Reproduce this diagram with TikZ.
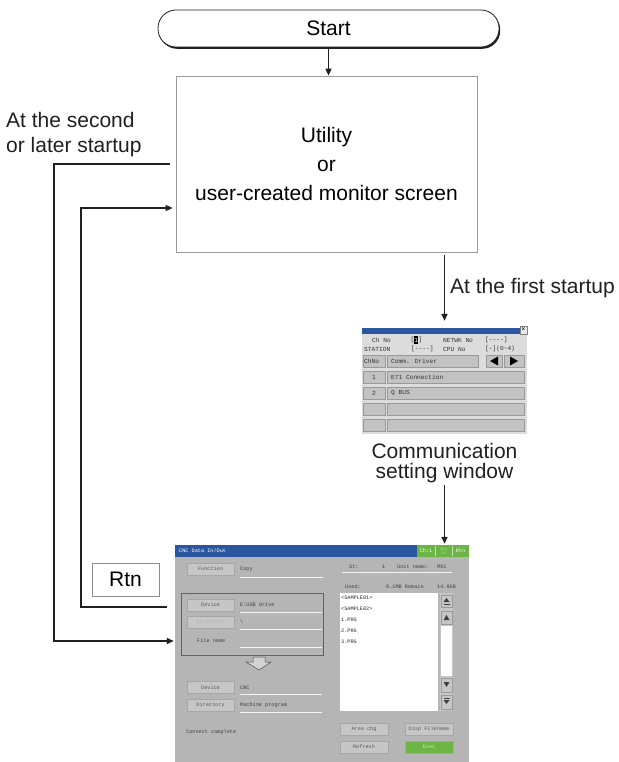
\documentclass[tikz,border=0pt]{standalone}
\usepackage{fontspec}
\setmainfont{Liberation Sans}
\newfontfamily\scrmono{Liberation Mono}
\usetikzlibrary{arrows.meta, positioning, shadows}

\definecolor{lndark}{RGB}{35,31,32}
\definecolor{titleblue}{RGB}{43,87,160}
\definecolor{okgreen}{RGB}{108,180,68}
\definecolor{scrgray}{RGB}{181,181,181}
\definecolor{btngray}{RGB}{198,198,198}
\definecolor{commgray}{RGB}{220,220,220}
\definecolor{cellgray}{RGB}{194,194,194}
\definecolor{selblue}{RGB}{70,100,172}

\begin{document}
\begin{tikzpicture}[
  x=1pt, y=-1pt,
  lbl/.style={inner sep=0pt, font=\fontsize{21}{25}\selectfont, text=lndark},
  termbox/.style={rectangle, rounded corners=18pt, draw=lndark, line width=0.8pt, fill=white,
                  minimum width=341pt, minimum height=37pt, font=\fontsize{21}{25}\selectfont,
                  drop shadow={shadow xshift=1.2pt, shadow yshift=-1.8pt, fill=lndark, opacity=1}},
  utilbox/.style={rectangle, draw=black!40, line width=0.7pt, minimum width=301pt, minimum height=176pt,
                  align=center, font=\fontsize{21}{29}\selectfont},
  rtnbox/.style={rectangle, draw=black!45, line width=0.7pt, minimum width=67pt, minimum height=33pt,
                 font=\fontsize{21}{25}\selectfont},
  arrow/.style={-{Triangle[length=7pt, width=6pt]}, line width=1.5pt, draw=lndark},
  sbtn/.style={rectangle, draw=black!35, fill=btngray, line width=0.4pt, inner sep=0pt,
               minimum width=47pt, minimum height=12pt, font=\scrmono\fontsize{5.2}{6}\selectfont, text=black!65},
  stxt/.style={inner sep=0pt, anchor=west, font=\scrmono\fontsize{5.2}{6}\selectfont, text=black!75},
  ctxt/.style={inner sep=0pt, anchor=west, font=\scrmono\fontsize{6.2}{7}\selectfont, text=black!80},
  cell/.style={draw=black!40, fill=cellgray, line width=0.4pt},
  uline/.style={draw=white!85!scrgray, line width=0.6pt}
]
\useasboundingbox (0,0) rectangle (618,762);

\node[termbox] (start) at (328.5,28.5) {Start};
\node[utilbox] (util) at (326.5,164) {Utility\\or\\user-created monitor screen};
\node[lbl, align=left, anchor=west] (later) at (6,134.5) {At the second\\or later startup};
\node[inner sep=0pt, minimum width=165pt, minimum height=106pt] (comm) at (444.5,381) {};
\node[lbl, align=center, font=\fontsize{21}{20}\selectfont] (commcap) at (444.5,463) {Communication\\setting window};
\node[inner sep=0pt, minimum width=294pt, minimum height=217pt, fill=scrgray] (scr) at (322,653.5) {};
\node[rtnbox] (rtn) at (125.5,579.5) {Rtn};

\coordinate (filein) at (scr.west |- 0,641);
\coordinate (rtnout) at (167,607);
\coordinate (retin) at (util.west |- 0,208);

\draw[arrow] (start.south) -- (start.south |- util.north);
\draw[arrow, shorten <=3pt, shorten >=7pt] (util.south -| comm.north) -- (comm.north);
\node[lbl, anchor=west] (firstlbl) at (450,288) {At the first startup};
\draw[arrow, shorten <=2pt, shorten >=1pt] (commcap.south) -- (commcap.south |- scr.north);
\draw[arrow, shorten >=1pt] ([xshift=-6pt]util.west) -| (54,400) |- (filein);
\draw[arrow, shorten >=3pt] (rtnout) -| (81,400) |- (retin);

% communication setting window
\fill[commgray] (362,328) rectangle (527,434);
\fill[titleblue] (362,328) rectangle (520,334);
\draw[black!50, fill=white!92!black, line width=0.4pt] (520,326) rectangle (527,334);
\node[inner sep=0pt, font=\fontsize{7}{7}\selectfont] at (523.5,330) {×};
\node[ctxt] at (372,340) {Ch No};
\node[ctxt] at (410.3,340) {[};
\fill[black] (414.2,336) rectangle (418.2,344);
\node[ctxt, anchor=center, text=white] at (416.2,340) {1};
\node[ctxt] at (418.4,340) {]};
\node[ctxt] at (443,340) {NETWK No};
\node[ctxt] at (485,340) {[----]};
\node[ctxt] at (364,349) {STATION};
\node[ctxt] at (411,349) {[----]};
\node[ctxt] at (443,349) {CPU No};
\node[ctxt] at (485,349) {[-](0\textasciitilde 4)};
\draw[cell] (363,355) rectangle (385,367);
\draw[cell] (387,355) rectangle (478,367);
\draw[cell] (486,355) rectangle (502,367);
\draw[cell] (504,355) rectangle (524,367);
\node[ctxt] at (364,361) {ChNo};
\node[ctxt] at (391,361) {Comm. Driver};
\fill[black] (490,361) -- (498,356.5) -- (498,365.5) -- cycle;
\fill[black] (518,361) -- (510,356.5) -- (510,365.5) -- cycle;
\foreach \yy/\n/\t in {371/1/E71 Connection, 387/2/Q BUS, 403//, 419//} {
  \draw[cell] (363,\yy) rectangle (385,\yy+12);
  \draw[cell] (387,\yy) rectangle (524,\yy+12);
  \node[ctxt, anchor=center] at (374,\yy+6) {\n};
  \node[ctxt] at (391,\yy+6) {\t};
}

% CNC data in/out screen
\fill[titleblue] (175,545) rectangle (469,557);
\fill[okgreen] (417,545) rectangle (469,557);
\draw[white!60!okgreen, line width=0.5pt] (435,546) -- (435,556) (452,546) -- (452,556);
\node[stxt, text=white] at (179,551) {CNC Data In/Out};
\node[stxt, text=white, anchor=center] at (426,551) {Ch:1};
\node[stxt, text=white!55!okgreen, anchor=center, align=center, font=\scrmono\fontsize{3.6}{4}\selectfont] at (443.5,551) {Chg\\Ch};
\node[stxt, text=white, anchor=center] at (460.5,551) {Rtn};

\node[sbtn] (fnbtn) at (210.5,569) {Function};
\node[stxt] at (240,569) {Copy};
\draw[uline] (240,577) -- (323,577);
\node[stxt] at (349,567) {St:};
\node[stxt] at (382,567) {1};
\node[stxt] at (397,567) {Unit name:};
\node[stxt] at (437,567) {M01};
\draw[uline] (342,572) -- (452,572);
\node[stxt] at (345,587) {Used:};
\node[stxt] at (386,587) {0.1MB Remain};
\node[stxt] at (437,587) {14.9GB};

\draw[selblue, line width=0.8pt] (181,593) rectangle (323,655);
\node[sbtn] (devbtn) at (210.5,605) {Device};
\node[stxt] at (240,605) {E:USB drive};
\draw[uline] (240,612) -- (322,612);
\node[sbtn, text=black!30] (dirbtn) at (210.5,622.5) {Directory};
\node[stxt] at (240,622) {\textbackslash};
\draw[uline] (240,629) -- (322,629);
\node[stxt] at (197,641) {File name};
\draw[uline] (240,647) -- (322,647);
\draw[black!70, fill=white!40!scrgray, line width=0.5pt]
  (253,657) -- (265,657) -- (265,662) -- (271,662) -- (259,670) -- (246,662) -- (253,662) -- cycle;
\node[sbtn] (cncbtn) at (210.5,687.5) {Device};
\node[stxt] at (240,688) {CNC};
\draw[uline] (240,694) -- (322,694);
\node[sbtn] (mpbtn) at (210.5,705) {Directory};
\node[stxt] at (240,705) {Machine program};
\draw[uline] (240,712) -- (322,712);
\node[stxt] at (186,732) {Connect complete};

\fill[white] (340,593) rectangle (438,711);
\foreach \yy/\t in {598/<SAMPLE01>, 609/<SAMPLE02>, 620/1.PRG, 631/2.PRG, 642/3.PRG}
  \node[stxt, text=black!85] at (341,\yy) {\t};
\fill[btngray] (440,593) rectangle (453,711);
\fill[white] (441,626) rectangle (452,676);
\draw[cell, fill=btngray] (441,595) rectangle (452,607);
\draw[cell, fill=btngray] (441,611) rectangle (452,624);
\draw[cell, fill=btngray] (441,678) rectangle (452,692);
\draw[cell, fill=btngray] (441,695) rectangle (452,709);
\fill[black!75] (443.5,602) -- (449.5,602) -- (446.5,598) -- cycle;
\draw[black!75, line width=0.6pt] (443.5,604) -- (449.5,604);
\fill[black!75] (443.5,620) -- (449.5,620) -- (446.5,615) -- cycle;
\fill[black!75] (443.5,682) -- (449.5,682) -- (446.5,687) -- cycle;
\draw[black!75, line width=0.6pt] (443.5,698) -- (449.5,698);
\fill[black!75] (443.5,700) -- (449.5,700) -- (446.5,704) -- cycle;

\node[sbtn, minimum width=48pt] (areabtn) at (364,729) {Area chg};
\node[sbtn, minimum width=48pt] (dispbtn) at (429,729) {Disp Filename};
\node[sbtn, minimum width=48pt] (refbtn) at (364,747) {Refresh};
\node[sbtn, minimum width=48pt, fill=okgreen, text=white!65!okgreen] (execbtn) at (429,747) {Exec};
\end{tikzpicture}
\end{document}
